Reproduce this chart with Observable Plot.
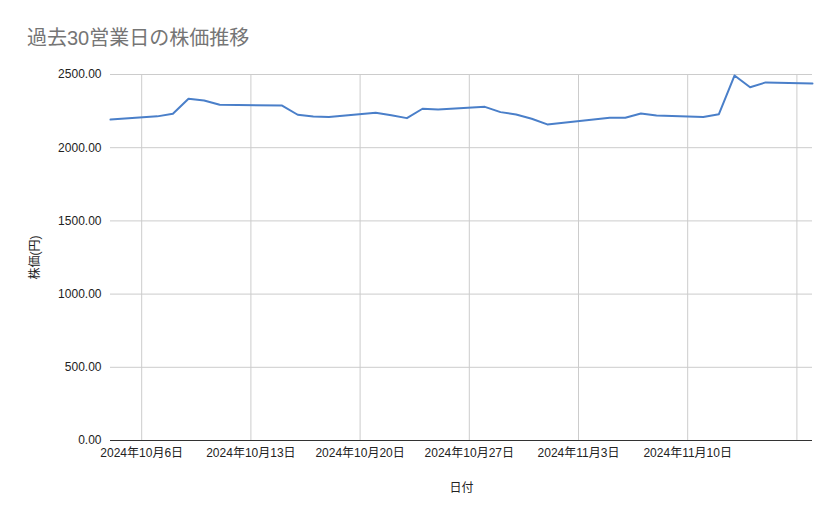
<!DOCTYPE html>
<html>
<head>
<meta charset="utf-8">
<script src="https://cdn.jsdelivr.net/npm/d3@7"></script>
<script src="https://cdn.jsdelivr.net/npm/@observablehq/plot@0.6"></script>
<style>
  html, body { margin: 0; padding: 0; background: #fff; }
  #wrap { width: 839px; }
  #title { height: 56px; box-sizing: border-box; padding: 28px 0 0 27px; font-size: 20px; line-height: 20px; color: #757575; font-family: "Liberation Sans", "Noto Sans CJK JP", sans-serif; }
  svg { display: block; }
</style>
</head>
<body>
<div id="wrap">
  <div id="title">過去30営業日の株価推移</div>
  <div id="chart"></div>
</div>
<script>
const dates = [
  "2024-10-04","2024-10-07","2024-10-08","2024-10-09","2024-10-10","2024-10-11",
  "2024-10-15","2024-10-16","2024-10-17","2024-10-18","2024-10-21","2024-10-22",
  "2024-10-23","2024-10-24","2024-10-25","2024-10-28","2024-10-29","2024-10-30",
  "2024-10-31","2024-11-01","2024-11-05","2024-11-06","2024-11-07","2024-11-08",
  "2024-11-11","2024-11-12","2024-11-13","2024-11-14","2024-11-15","2024-11-18"
];
const prices = [
  2192, 2214, 2232, 2334, 2323, 2293,
  2288, 2225, 2213, 2209, 2238, 2222,
  2202, 2266, 2261, 2279, 2243, 2227,
  2198, 2159, 2204, 2204, 2234, 2220,
  2209, 2229, 2493, 2413, 2446, 2439
];
const gridDates = ["2024-10-06","2024-10-13","2024-10-20","2024-10-27","2024-11-03","2024-11-10","2024-11-17"];
const tickLabels = ["2024年10月6日","2024年10月13日","2024年10月20日","2024年10月27日","2024年11月3日","2024年11月10日",""];
const yTicks = [0, 500, 1000, 1500, 2000, 2500];
const xDomain = ["2024-10-04", "2024-11-18"];

const parse = d3.utcParse("%Y-%m-%d");
const data = dates.map((d, i) => ({date: parse(d), price: prices[i]}));
const gridD = gridDates.map(parse);
const labelMap = new Map(gridDates.map((d, i) => [+parse(d), tickLabels[i]]));

const chart = Plot.plot({
  width: 839,
  height: 463,
  marginTop: 18,
  marginBottom: 79,
  marginLeft: 110,
  marginRight: 27,
  style: {fontFamily: '"Liberation Sans", "Noto Sans CJK JP", sans-serif', fontSize: "12px", color: "#222"},
  x: {type: "utc", domain: xDomain.map(parse), ticks: gridD, tickSize: 0, tickPadding: 8,
      tickFormat: d => labelMap.get(+d) ?? "", label: "日付", labelAnchor: "center", labelArrow: "none", labelOffset: 51},
  y: {domain: [0, 2500], ticks: yTicks, tickSize: 0, tickPadding: 9, tickFormat: d => d.toFixed(2),
      label: "株価(円)", labelAnchor: "center", labelArrow: "none", labelOffset: 80},
  marks: [
    Plot.ruleY(yTicks.filter(v => v > 0), {stroke: "#cccccc", strokeWidth: 1}),
    Plot.ruleX(gridD, {stroke: "#cccccc", strokeWidth: 1}),
    Plot.ruleY([0], {stroke: "#333333", strokeWidth: 1}),
    Plot.lineY(data, {x: "date", y: "price", stroke: "#4a7fc9", strokeWidth: 2, curve: "linear"})
  ]
});
document.getElementById("chart").appendChild(chart);
</script>
</body>
</html>
